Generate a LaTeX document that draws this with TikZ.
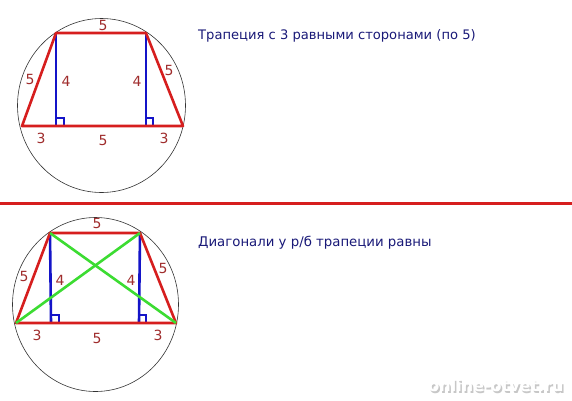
\documentclass[tikz,border=0pt]{standalone}
\usepackage{fontspec}
\setmainfont{DejaVu Sans}
\usepackage{xcolor}
\usetikzlibrary{calc,positioning}
\definecolor{sidered}{RGB}{214,30,30}
\definecolor{hblue}{RGB}{20,20,200}
\definecolor{diaggreen}{RGB}{60,220,50}
\definecolor{numred}{RGB}{160,45,45}
\definecolor{captionblue}{RGB}{25,25,120}

\begin{document}
\begin{tikzpicture}[x=1pt,y=-1pt]
		\tikzstyle{every node}=[font=\fontsize{11}{13}\selectfont]
		\tikzstyle{side}=[line width=2.6pt, color=sidered]
		\tikzstyle{height}=[line width=2.6pt, color=hblue]
		\tikzstyle{rightmark}=[line width=1.6pt, color=hblue]
		\tikzstyle{diag}=[line width=2.6pt, color=diaggreen]
		\tikzstyle{num}=[color=numred, font=\fontsize{14}{16}\selectfont]
		\tikzstyle{caption}=[color=captionblue, anchor=west, inner sep=0pt]
		\useasboundingbox (0,0) rectangle (572,400);
		\fill [white] (0,0) rectangle (572,400);
		% top trapezoid
		\draw [line width=0.6pt, black!80] (101.5,105.5) ellipse [x radius=84, y radius=87];
		\coordinate (A1) at (22,126);
		\coordinate (B1) at (183,126);
		\coordinate (C1) at (146,33);
		\coordinate (D1) at (56,33);
		\coordinate (H1) at (56,126);
		\coordinate (K1) at (146,126);
		\draw [height] (D1) -- (H1);
		\draw [height] (C1) -- (K1);
		\draw [rightmark] ($(H1)+(0,-8)$) -- ++(8,0) -- ++(0,8);
		\draw [rightmark] ($(K1)+(0,-8)$) -- ++(7,0) -- ++(0,8);
		\draw [side, line join=round] (A1) -- (B1) -- (C1) -- (D1) -- cycle;
		\node [num] at (103,25) {5};
		\node [num] at (30,79) {5};
		\node [num] at (66,81) {4};
		\node [num] at (137,81) {4};
		\node [num] at (169,70) {5};
		\node [num] at (41,138) {3};
		\node [num] at (103,140) {5};
		\node [num] at (164,138) {3};
		\node [caption, font=\fontsize{13.1}{16}\selectfont] (cap1) at (198,36) {Трапеция с 3 равными сторонами (по 5)};
		% separator
		\draw [line width=3pt, color=sidered] (0,203) -- (572,203);
		% bottom trapezoid
		\draw [line width=0.6pt, black!80] (95.5,304.5) ellipse [x radius=83, y radius=87];
		\coordinate (A2) at (16,323);
		\coordinate (B2) at (176,323);
		\coordinate (C2) at (140,233);
		\coordinate (D2) at (50,233);
		\coordinate (H2) at (51,323);
		\coordinate (K2) at (139,323);
		\draw [height] (D2) -- (H2);
		\draw [height] (C2) -- (K2);
		\draw [rightmark] ($(H2)+(0,-8)$) -- ++(8,0) -- ++(0,8);
		\draw [rightmark] ($(K2)+(0,-8)$) -- ++(7,0) -- ++(0,8);
		\draw [side, line join=round] (A2) -- (B2) -- (C2) -- (D2) -- cycle;
		\draw [diag] (A2) -- (C2);
		\draw [diag] (D2) -- (B2);
		\node [num] at (97,223) {5};
		\node [num] at (24,276) {5};
		\node [num] at (60,280) {4};
		\node [num] at (131,280) {4};
		\node [num] at (163,268) {5};
		\node [num] at (37,335) {3};
		\node [num] at (97,338) {5};
		\node [num] at (158,335) {3};
		\node [caption, font=\fontsize{13.3}{16}\selectfont] (cap2) at (198,243) {Диагонали у р/б трапеции равны};
		% watermark
		\node [font=\bfseries\fontsize{16}{18}\selectfont, color=black!22] (mark) at (497.5,387.5) {online-otvet.ru};
		\node [font=\bfseries\fontsize{16}{18}\selectfont, color=white] at (496,386) {online-otvet.ru};
	\end{tikzpicture}
\end{document}
